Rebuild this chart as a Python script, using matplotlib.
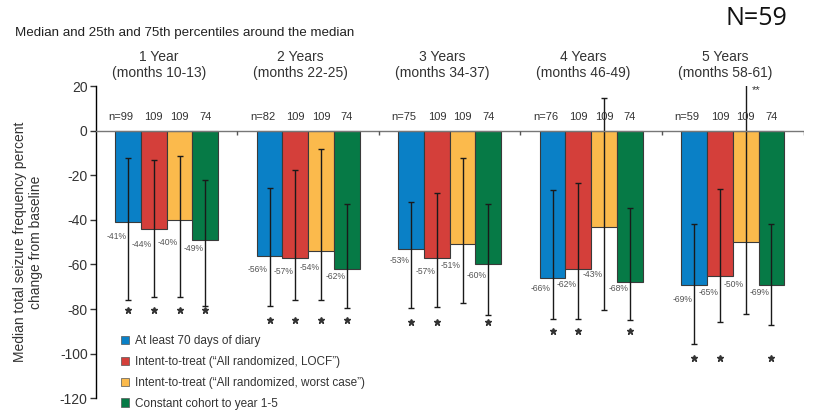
import numpy as np
import matplotlib
matplotlib.use("Agg")
import matplotlib.pyplot as plt
from matplotlib.patches import Patch

plt.rcParams['font.family'] = ['Liberation Sans', 'DejaVu Sans']
plt.rcParams['axes.unicode_minus'] = False

# data
groups = ["1 Year\n(months 10-13)", "2 Years\n(months 22-25)", "3 Years\n(months 34-37)",
          "4 Years\n(months 46-49)", "5 Years\n(months 58-61)"]
series = ["At least 70 days of diary",
          "Intent-to-treat (\u201cAll randomized, LOCF\u201d)",
          "Intent-to-treat (\u201cAll randomized, worst case\u201d)",
          "Constant cohort to year 1-5"]
colors = ["#0a80c6", "#d43f3a", "#fbba4c", "#067a46"]

median_blue   = [-41, -56, -53, -66, -69]
median_red    = [-44, -57, -57, -62, -65]
median_yellow = [-40, -54, -51, -43, -50]
median_green  = [-49, -62, -60, -68, -69]

p75_blue   = [-12.3, -25.6, -31.7, -26.7, -41.8]
p75_red    = [-13.0, -17.5, -27.9, -23.3, -25.9]
p75_yellow = [-11.4, -8.1, -12.3, 14.8, 25.0]
p75_green  = [-22.0, -33.0, -33.0, -34.4, -41.8]

p25_blue   = [-76.0, -78.5, -79.6, -84.7, -95.6]
p25_red    = [-74.4, -76.0, -79.3, -84.7, -85.9]
p25_yellow = [-74.4, -76.0, -77.5, -80.4, -82.2]
p25_green  = [-78.5, -79.6, -82.7, -85.0, -87.4]

# level of the percent labels under the bars (as in the picture)
lab_blue   = [-47.5, -62.2, -58.3, -70.6, -75.6]
lab_red    = [-51.0, -63.2, -63.2, -69.2, -72.7]
lab_yellow = [-50.2, -61.3, -60.5, -64.7, -69.0]
lab_green  = [-52.7, -65.5, -65.0, -70.6, -72.7]

n_labels = [["n=99", "109", "109", "74"], ["n=82", "109", "109", "74"],
            ["n=75", "109", "109", "74"], ["n=76", "109", "109", "74"],
            ["n=59", "109", "109", "74"]]

# significance stars (1 = star under bar) and level of the star row per group
sig_blue   = [1, 1, 1, 1, 1]
sig_red    = [1, 1, 1, 1, 1]
sig_yellow = [1, 1, 0, 0, 0]
sig_green  = [1, 1, 1, 1, 1]
star_level = [-80.5, -85, -86, -90, -102]

medians = [median_blue, median_red, median_yellow, median_green]
p75 = [p75_blue, p75_red, p75_yellow, p75_green]
p25 = [p25_blue, p25_red, p25_yellow, p25_green]
labs = [lab_blue, lab_red, lab_yellow, lab_green]
sigs = [sig_blue, sig_red, sig_yellow, sig_green]

fig = plt.figure(figsize=(8.16, 4.19), dpi=100)
ax = fig.add_axes([0.1176, 0.0501, 0.8671, 0.7435])

w = 0.182
gx = np.arange(len(groups))
for i in range(4):
    x = gx + (i - 1.5) * w
    med = np.array(medians[i])
    ax.bar(x, med, width=w, color=colors[i], edgecolor="#3a3a3a", linewidth=0.8, zorder=2)
    lo = med - np.array(p25[i])
    hi = np.array(p75[i]) - med
    ax.errorbar(x, med, yerr=[lo, hi], fmt="none", ecolor="#1a1a1a", elinewidth=1.0,
                capsize=2.5, capthick=1.0, zorder=3)
    for j in range(len(groups)):
        ax.text(x[j] - 0.012, labs[i][j], "%d%%" % med[j], ha="right", va="center",
                fontsize=6.2, color="#555555", zorder=4)
        lab = n_labels[j][i]
        dx = -0.05 if lab.startswith("n=") else 0
        ax.text(x[j] + dx, 6.3, lab, ha="center", va="center", fontsize=8, color="#333333")
        if sigs[i][j]:
            ax.plot(x[j], star_level[j], marker="*", markersize=4.5, color="#333333",
                    linestyle="none", zorder=4)

# ** on the 5 year worst case bar
ax.text(4 + 0.5 * w + 0.04, 18.2, "**", ha="left", va="center", fontsize=8, color="#333333")

# zero line and group separator ticks
ax.axhline(0, color="#777777", linewidth=1.0, zorder=5)
ax.vlines(gx + 0.5, -2.0, 0, color="#555555", linewidth=1.0, zorder=5)

for j, g in enumerate(groups):
    ax.text(gx[j] - 0.055, 1.068, g, transform=ax.get_xaxis_transform(), ha="center",
            va="center", fontsize=10, color="#333333", linespacing=1.15)

ax.set_xlim(-0.5, 4.5)
ax.set_ylim(-120, 20)
ax.set_yticks(np.arange(-120, 21, 20))
ax.set_xticks([])
for s in ["top", "right", "bottom"]:
    ax.spines[s].set_visible(False)
ax.spines["left"].set_linewidth(1.0)
ax.tick_params(axis="y", length=4, width=1, labelsize=10, colors="#333333", pad=2)
ax.set_ylabel("Median total seizure frequency percent\nchange from baseline", fontsize=10,
              color="#333333", labelpad=12)

fig.text(0.018, 0.921, "Median and 25th and 75th percentiles around the median",
         fontsize=9.6, color="#222222", va="center")
fig.text(0.927, 0.957, "N=59", fontsize=18, family=["Open Sans", "DejaVu Sans"],
         ha="center", va="center", color="#111111")

handles = [Patch(facecolor=c, edgecolor="#555555", linewidth=0.5) for c in colors]
fig.legend(handles, series, loc="upper left", bbox_to_anchor=(0.148, 0.2), frameon=False,
           fontsize=8.5, handlelength=0.7, handleheight=0.7, handletextpad=0.5,
           labelspacing=0.75, borderpad=0, borderaxespad=0, labelcolor="#333333")

fig.savefig("out.png", dpi=100)
